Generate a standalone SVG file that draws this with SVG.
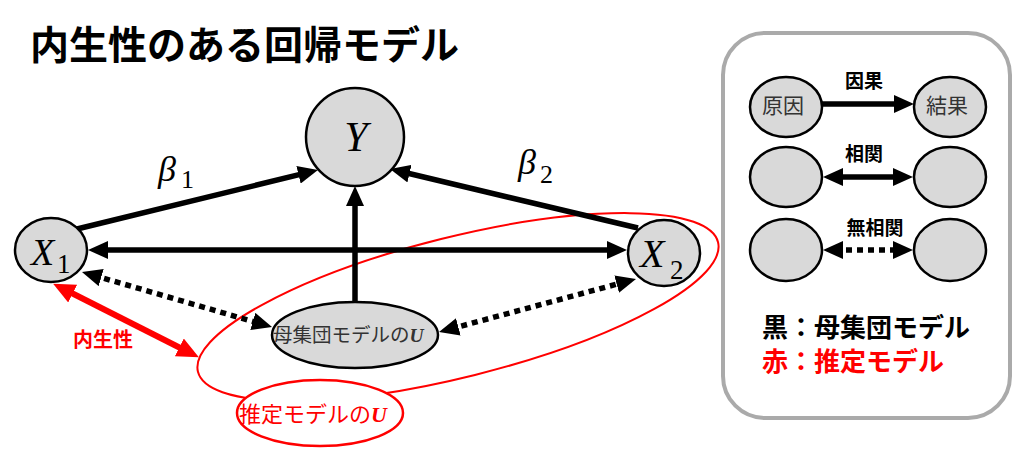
<svg xmlns="http://www.w3.org/2000/svg" width="1024" height="464" viewBox="0 0 1024 464">
<defs>
<style>
.jp{font-family:"Noto Sans CJK JP","Noto Sans",sans-serif}
.math{font-family:"Liberation Serif","DejaVu Serif",serif;font-style:italic}
.sub{font-family:"Liberation Serif","DejaVu Serif",serif;font-style:normal}
.node{fill:#d9d9d9;stroke:#000;stroke-width:2.5}
.arr{fill:none;stroke:#000;stroke-width:5.5}
.dot{fill:none;stroke:#000;stroke-width:5.5;stroke-dasharray:6 5}
.red{fill:none;stroke:#ff0000;stroke-width:2}
</style>
<marker id="ah" viewBox="0 0 20 18" refX="8" refY="9" markerWidth="20" markerHeight="18" markerUnits="userSpaceOnUse" orient="auto-start-reverse">
<path d="M0,0 L20,9 L0,18 z" fill="#000"/>
</marker>
<marker id="ahr" viewBox="0 0 22 20" refX="9" refY="10" markerWidth="22" markerHeight="20" markerUnits="userSpaceOnUse" orient="auto-start-reverse">
<path d="M0,0 L22,10 L0,20 z" fill="#ff0000"/>
</marker>
</defs>
<rect width="1024" height="464" fill="#fff"/>
<text class="jp" x="30" y="59" font-size="39" font-weight="bold" fill="#000">内生性のある回帰モデル</text>

<rect id="legend-frame" x="723" y="33" width="287" height="385" rx="42" ry="42" fill="#fff" stroke="#aaaaaa" stroke-width="4"/>

<g id="estimated-model-region">
<ellipse class="red" cx="458" cy="307" rx="268" ry="70" transform="rotate(-14 458 307)"/>
</g>

<g id="connectors">
<path class="arr" d="M77,229 L306.3,172.9" marker-end="url(#ah)"/>
<path class="arr" d="M638,228 L401.7,171.8" marker-end="url(#ah)"/>
<path class="arr" d="M100,250 L615,250" marker-start="url(#ah)" marker-end="url(#ah)"/>
<path class="arr" d="M355,302 L355,198" marker-end="url(#ah)"/>
<path class="dot" d="M93.5,275.3 L260.5,323.7" marker-start="url(#ah)" marker-end="url(#ah)"/>
<path class="dot" d="M450.6,328.9 L624.4,282.1" marker-start="url(#ah)" marker-end="url(#ah)"/>
<path fill="none" stroke="#ff0000" stroke-width="6" d="M64.7,289.5 L187.3,351.5" marker-start="url(#ahr)" marker-end="url(#ahr)"/>
<path class="arr" d="M822,104 L902,104" marker-end="url(#ah)"/>
<path class="arr" d="M835,177 L901,177" marker-start="url(#ah)" marker-end="url(#ah)"/>
<path class="dot" d="M835,250 L901,250" marker-start="url(#ah)" marker-end="url(#ah)"/>
</g>

<g id="node-Y">
<circle class="node" cx="355" cy="137" r="49"/>
<text class="math" x="356" y="151" font-size="42" text-anchor="middle">Y</text>
</g>
<g id="node-X1">
<ellipse class="node" cx="51" cy="250" rx="36" ry="32"/>
<text x="31" y="265"><tspan class="math" font-size="38">X</tspan><tspan class="sub" x="57" y="273" font-size="27">1</tspan></text>
</g>
<g id="node-X2">
<ellipse class="node" cx="664" cy="253" rx="36" ry="33"/>
<text x="640" y="267"><tspan class="math" font-size="40">X</tspan><tspan class="sub" x="670" y="279" font-size="27">2</tspan></text>
</g>
<g id="node-U">
<ellipse class="node" cx="355" cy="335" rx="83" ry="33"/>
<text x="273" y="342" font-size="19.5"><tspan class="jp" fill="#333">母集団モデルの</tspan><tspan class="math" font-weight="bold" fill="#333">U</tspan></text>
</g>
<g id="node-U-est">
<ellipse cx="320" cy="413" rx="83" ry="33" fill="#fff" stroke="#ff0000" stroke-width="2.5"/>
<text x="239" y="422" font-size="22" fill="#ff0000"><tspan class="jp">推定モデルの</tspan><tspan class="math" font-weight="bold">U</tspan></text>
</g>

<g id="labels">
<text x="158" y="181"><tspan class="math" font-size="36">β</tspan><tspan class="sub" x="181" y="188" font-size="26">1</tspan></text>
<text x="518" y="174"><tspan class="math" font-size="36">β</tspan><tspan class="sub" x="540" y="183" font-size="26">2</tspan></text>
<text class="jp" x="73" y="347" font-size="20" font-weight="bold" fill="#ff0000">内生性</text>
</g>

<g id="legend">
<g id="legend-cause">
<ellipse class="node" cx="786" cy="107" rx="36" ry="30"/>
<text class="jp" x="783" y="113" font-size="21" fill="#333" text-anchor="middle">原因</text>
</g>
<g id="legend-effect">
<ellipse class="node" cx="950" cy="107" rx="36" ry="30"/>
<text class="jp" x="947" y="113" font-size="21" fill="#333" text-anchor="middle">結果</text>
</g>
<g id="legend-corr-a"><ellipse class="node" cx="786" cy="177" rx="36" ry="30"/></g>
<g id="legend-corr-b"><ellipse class="node" cx="950" cy="177" rx="36" ry="30"/></g>
<g id="legend-nocorr-a"><ellipse class="node" cx="786" cy="250" rx="36" ry="31"/></g>
<g id="legend-nocorr-b"><ellipse class="node" cx="950" cy="250" rx="36" ry="31"/></g>
<text class="jp" x="864" y="88" font-size="19" font-weight="bold" text-anchor="middle">因果</text>
<text class="jp" x="864" y="161" font-size="19" font-weight="bold" text-anchor="middle">相関</text>
<text class="jp" x="875" y="235" font-size="19" font-weight="bold" text-anchor="middle">無相関</text>
<text class="jp" x="762" y="337" font-size="26" font-weight="bold">黒：母集団モデル</text>
<text class="jp" x="762" y="371" font-size="26" font-weight="bold" fill="#ff0000">赤：推定モデル</text>
</g>
</svg>
